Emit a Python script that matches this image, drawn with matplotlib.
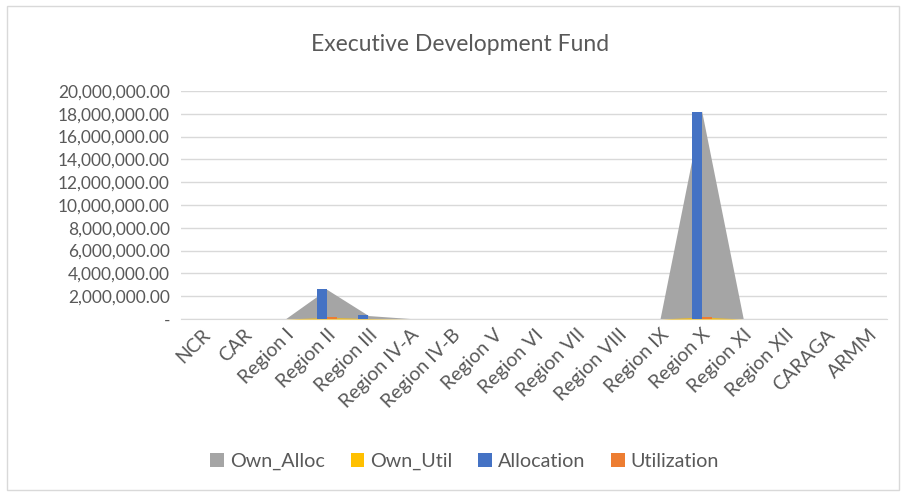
import matplotlib.pyplot as plt
from matplotlib.patches import Rectangle
from matplotlib.ticker import FuncFormatter
import numpy as np

regions = ["NCR", "CAR", "Region I", "Region II", "Region III", "Region IV-A",
           "Region IV-B", "Region V", "Region VI", "Region VII", "Region VIII",
           "Region IX", "Region X", "Region XI", "Region XII", "CARAGA", "ARMM"]

own_alloc = [0, 0, 0, 2600000, 300000, 40000, 0, 0, 0, 0, 0, 0, 18250000, 0, 0, 0, 0]
own_util = [0, 0, 0, 120000, 40000, 0, 0, 0, 0, 0, 0, 0, 150000, 0, 0, 0, 0]
allocation = [0, 0, 0, 2650000, 330000, 0, 0, 0, 0, 0, 0, 0, 18200000, 0, 0, 0, 0]
utilization = [0, 0, 0, 150000, 0, 0, 0, 0, 0, 0, 0, 0, 200000, 0, 0, 0, 0]

txt = '#595959'
plt.rcParams['font.family'] = ['Lato', 'DejaVu Sans']

fig = plt.figure(figsize=(9.06, 4.96), dpi=100)
ax = fig.add_axes([0.1998, 0.3569, 0.7792, 0.4596])

x = np.arange(len(regions))
w = 0.24

ax.fill_between(x, own_alloc, color='#A5A5A5', lw=0, zorder=2, label='Own_Alloc')
ax.fill_between(x, own_util, color='#FFC000', lw=0, zorder=3, label='Own_Util')
ax.bar(x - w / 2, allocation, w, color='#4472C4', zorder=4, label='Allocation')
ax.bar(x + w / 2, utilization, w, color='#ED7D31', zorder=4, label='Utilization')

ax.set_xlim(-0.5, 16.45)
ax.set_ylim(0, 20000000)
ax.set_yticks(np.arange(0, 20000001, 2000000))
ax.yaxis.set_major_formatter(FuncFormatter(lambda v, p: '-' if v == 0 else f'{v:,.2f}'))
ax.grid(axis='y', color='#D9D9D9', lw=1, zorder=0)
for s in ['top', 'right', 'left']:
    ax.spines[s].set_visible(False)
ax.spines['bottom'].set_color('#D9D9D9')
ax.tick_params(length=0, colors=txt)
ax.tick_params(axis='y', pad=8, labelsize=12.5)
ax.tick_params(axis='x', pad=5, labelsize=14)
ax.set_xticks(x)
ax.set_xticklabels(regions, rotation=45, ha='right', rotation_mode='anchor')

fig.text(0.508, 0.91, 'Executive Development Fund', ha='center', va='center',
         fontsize=16.5, color=txt)

handles, labels = ax.get_legend_handles_labels()
fig.legend(handles, labels, loc='center', bbox_to_anchor=(0.513, 0.07), ncol=4,
           frameon=False, fontsize=14.2, labelcolor=txt, handlelength=0.7,
           handleheight=0.7, handletextpad=0.3, columnspacing=1.3)

fig.patches.append(Rectangle((0.008, 0.012), 0.984, 0.976, transform=fig.transFigure,
                             fill=False, edgecolor='#D9D9D9', lw=1))

fig.savefig('out.png', dpi=100)
